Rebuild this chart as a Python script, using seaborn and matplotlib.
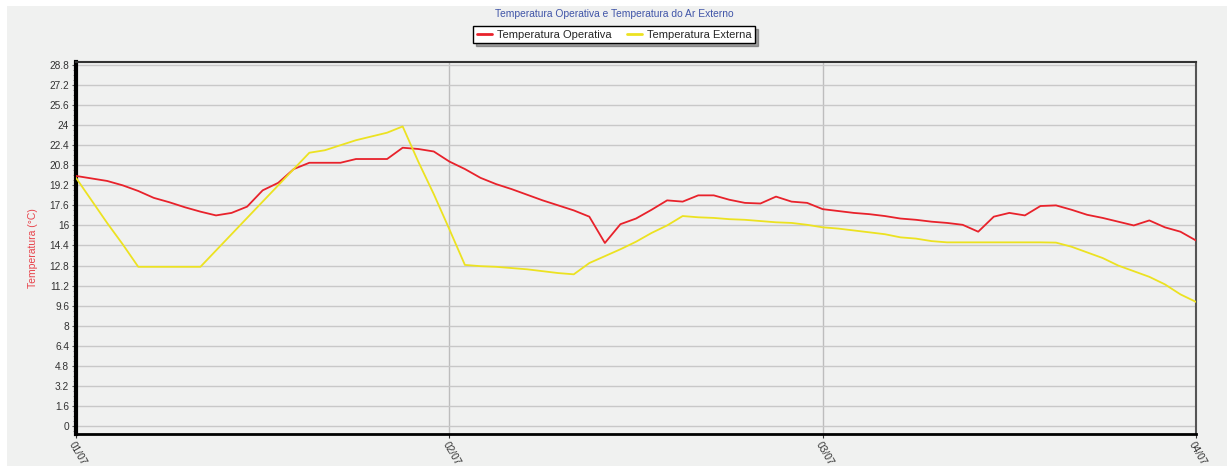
import numpy as np
import pandas as pd
import matplotlib
matplotlib.use("Agg")
import matplotlib.pyplot as plt
from matplotlib.ticker import AutoMinorLocator
import seaborn as sns

# Hourly readings over three days (hour 0 = 01/07 00:00)
hours = list(range(73))

temp_operativa = [
    19.95, 19.75, 19.55, 19.2, 18.75, 18.2, 17.85, 17.45, 17.1, 16.8,
    17.0, 17.5, 18.8, 19.4, 20.5, 21.0, 21.0, 21.0, 21.3, 21.3,
    21.3, 22.2, 22.1, 21.9, 21.1, 20.5, 19.8, 19.3, 18.9, 18.45,
    18.0, 17.6, 17.2, 16.7, 14.6, 16.1, 16.55, 17.25, 18.0, 17.9,
    18.4, 18.4, 18.05, 17.8, 17.75, 18.3, 17.9, 17.8, 17.3, 17.15,
    17.0, 16.9, 16.75, 16.55, 16.45, 16.3, 16.2, 16.05, 15.5, 16.7,
    17.0, 16.8, 17.55, 17.6, 17.25, 16.85, 16.6, 16.3, 16.0, 16.4,
    15.85, 15.5, 14.8,
]

temp_externa = [
    19.8, 18.0, 16.2, 14.5, 12.7, 12.7, 12.7, 12.7, 12.7, 14.0,
    15.3, 16.6, 17.9, 19.2, 20.5, 21.8, 22.0, 22.4, 22.8, 23.1,
    23.4, 23.9, 21.1, 18.5, 15.7, 12.85, 12.75, 12.7, 12.6, 12.5,
    12.35, 12.2, 12.1, 13.0, 13.55, 14.1, 14.7, 15.4, 16.0, 16.75,
    16.65, 16.6, 16.5, 16.45, 16.35, 16.25, 16.2, 16.05, 15.85, 15.75,
    15.6, 15.45, 15.3, 15.05, 14.95, 14.75, 14.65, 14.65, 14.65, 14.65,
    14.65, 14.65, 14.65, 14.63, 14.3, 13.85, 13.4, 12.8, 12.35, 11.9,
    11.3, 10.5, 9.9,
]

series_names = ["Temperatura Operativa", "Temperatura Externa"]
day_ticks = [0, 24, 48, 72]
day_labels = ["01/07", "02/07", "03/07", "04/07"]
y_ticks = [0, 1.6, 3.2, 4.8, 6.4, 8, 9.6, 11.2, 12.8, 14.4, 16, 17.6,
           19.2, 20.8, 22.4, 24, 25.6, 27.2, 28.8]

df = pd.DataFrame({
    "hora": hours * 2,
    "temp": temp_operativa + temp_externa,
    "serie": [series_names[0]] * len(hours) + [series_names[1]] * len(hours),
})

bg = "#f0f1f0"
sns.set_theme(style="white")
plt.rcParams["font.family"] = ["Liberation Sans", "DejaVu Sans"]

fig = plt.figure(figsize=(12.27, 4.66), dpi=100)
fig.patch.set_facecolor("white")
# grey panel behind the chart
fig.add_artist(plt.Rectangle((7 / 1227, 0), 1 - 7 / 1227, 1 - 6 / 466,
                             transform=fig.transFigure, facecolor=bg,
                             edgecolor="none", zorder=0))

ax = fig.add_axes([76 / 1227, 1 - 434 / 466, 1120 / 1227, 372 / 466])
ax.set_facecolor(bg)

palette = {series_names[0]: "#e8222b", series_names[1]: "#ece221"}
sns.lineplot(data=df, x="hora", y="temp", hue="serie", palette=palette,
             linewidth=1.3, ax=ax, legend=False, zorder=3)

ax.set_xlim(0, 72)
ax.set_ylim(-0.64, 29.04)
ax.set_yticks(y_ticks)
ax.set_yticklabels([f"{v:g}" for v in y_ticks], fontsize=7.3, color="#333333")
ax.yaxis.set_minor_locator(AutoMinorLocator(4))
ax.set_xticks(day_ticks)
ax.set_xticklabels(day_labels, rotation=-60, ha="left", va="top",
                   rotation_mode="anchor", fontsize=7.3, color="#333333")

ax.grid(True, axis="y", color="#c8c8c8", linewidth=1.0, zorder=0)
ax.grid(True, axis="x", color="#bdbdbd", linewidth=1.0, zorder=0)
ax.tick_params(axis="y", which="major", left=True, length=3, width=0.8,
               color="#555555", pad=2)
ax.tick_params(axis="y", which="minor", left=True, length=2, width=0.6,
               color="#777777")
ax.tick_params(axis="x", bottom=True, length=3, width=0.8, color="#333333", pad=1)

ax.spines["left"].set_linewidth(3)
ax.spines["left"].set_color("black")
ax.spines["bottom"].set_linewidth(2)
ax.spines["bottom"].set_color("black")
ax.spines["top"].set_linewidth(1.5)
ax.spines["top"].set_color("#333333")
ax.spines["right"].set_linewidth(1.5)
ax.spines["right"].set_color("#555555")

ax.set_xlabel("")
ax.set_ylabel("Temperatura (°C)", color="#e8434b", fontsize=7.5, labelpad=8)

fig.text(614 / 1227, 1 - 14 / 466, "Temperatura Operativa e Temperatura do Ar Externo",
         ha="center", va="center", fontsize=7.4, color="#4055a8")

handles = [plt.Line2D([], [], color=palette[n], linewidth=2) for n in series_names]
leg = fig.legend(handles, series_names, loc="center",
                 bbox_to_anchor=(614 / 1227, 1 - 34.5 / 466), ncol=2,
                 fontsize=8, frameon=True, fancybox=False, shadow=True,
                 handlelength=1.4, handletextpad=0.4, columnspacing=1.4,
                 borderpad=0.3)
leg.get_frame().set_edgecolor("black")
leg.get_frame().set_linewidth(1.0)
leg.get_frame().set_facecolor("white")

fig.savefig("out.png", dpi=100, facecolor=fig.get_facecolor())
